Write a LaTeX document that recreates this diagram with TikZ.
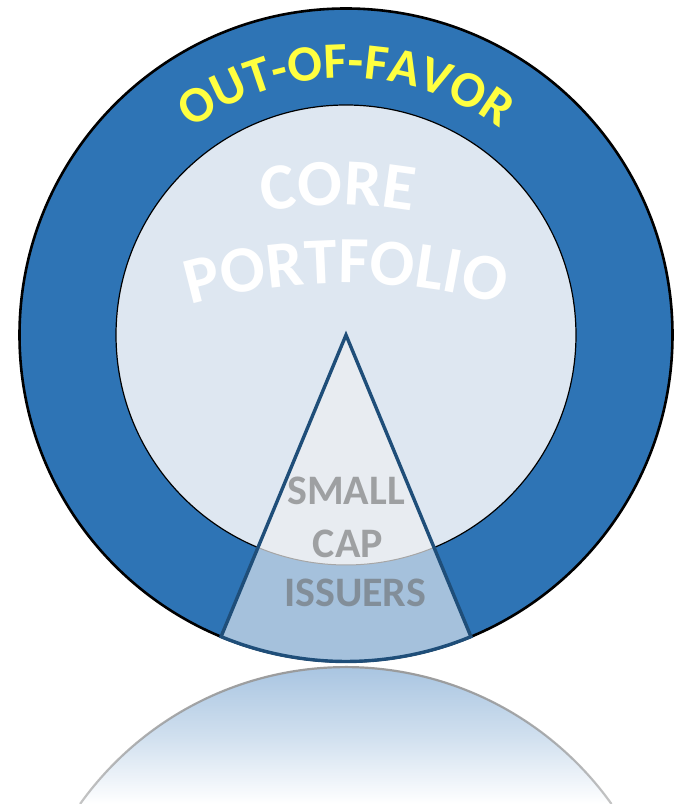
\documentclass[tikz,border=0pt]{standalone}
\usepackage{fontspec}
\setmainfont{Carlito}
\usetikzlibrary{decorations.text,fadings}
\definecolor{ringblue}{HTML}{2E74B5}
\definecolor{corefill}{HTML}{DEE7F1}
\definecolor{wedgein}{HTML}{E8ECF1}
\definecolor{wedgering}{HTML}{A5C1DC}
\definecolor{wedgeline}{HTML}{1F4E79}
\definecolor{favor}{HTML}{FFFF40}
\definecolor{issuer}{HTML}{6A6A6A}
\definecolor{reflect}{HTML}{A9C5E1}
\newcommand\myfavfont{\fontsize{51}{51}\selectfont\bfseries\color{favor}}
\newcommand\mycorefont{\fontsize{66}{66}\selectfont\bfseries\color{white}}
\begin{document}
\begin{tikzpicture}[x=1pt,y=1pt,
  smalltext/.style={font=\fontsize{42}{42}\selectfont\bfseries, text=issuer, text opacity=0.58, anchor=base, inner sep=0pt},
  ringline/.style={draw=black, line width=2.6pt},
  coreline/.style={draw=black, line width=1.2pt},
  wedgeborder/.style={draw=wedgeline, line width=3.4pt, line join=miter},
]
\useasboundingbox (0,0) rectangle (681,804);
\coordinate (c) at (346,469);
\coordinate (rc) at (346,-189.5);
% reflection
\begin{scope}
  \clip (rc) circle[radius=326.5];
  \shade[top color=reflect, bottom color=white, middle color=reflect!55] (0,0) rectangle (681,137);
\end{scope}
\draw[gray!80, line width=2.2pt, path fading=south] (rc) ++(35.5:326.5) arc[start angle=35.5, end angle=144.5, radius=326.5];
% outer ring
\fill[ringblue] (c) circle[radius=326.5];
\path[ringline] (c) circle[radius=326.5];
% inner core
\path[fill=corefill, coreline] (c) circle[radius=230];
% wedge part in ring
\fill[wedgering] (c) ++(247.5:230) arc[start angle=247.5, end angle=292.5, radius=230] -- ++(292.5:96.5) arc[start angle=292.5, end angle=247.5, radius=326.5] -- cycle;
% wedge part in core
\fill[wedgein] (c) -- ++(247.5:230) arc[start angle=247.5, end angle=292.5, radius=230] -- cycle;
\draw[gray!70, line width=1pt] (c) ++(247.5:230) arc[start angle=247.5, end angle=292.5, radius=230];
% wedge outline
\path[wedgeborder] (c) -- ++(247.5:326.5) arc[start angle=247.5, end angle=292.5, radius=326.5] -- cycle;
% texts
\path[decorate, decoration={text along path, text={|\myfavfont|OUT-OF-FAVOR}, text align=center}] (c) ++(150:257) arc[start angle=150, end angle=30, radius=257];
\path[decorate, decoration={text along path, text={|\mycorefont|CORE}, text align=center}] (338,179) ++(110:420) arc[start angle=110, end angle=70, radius=420];
\path[decorate, decoration={text along path, text={|\mycorefont|PORTFOLIO}, text align=center}] (346,-40) ++(110:561) arc[start angle=110, end angle=70, radius=561];
\node[smalltext] (small) at (346,299) {SMALL};
\node[smalltext] (cap) at (348,246) {CAP};
\node[smalltext] (issuers) at (355,197) {ISSUERS};
\end{tikzpicture}
\end{document}
